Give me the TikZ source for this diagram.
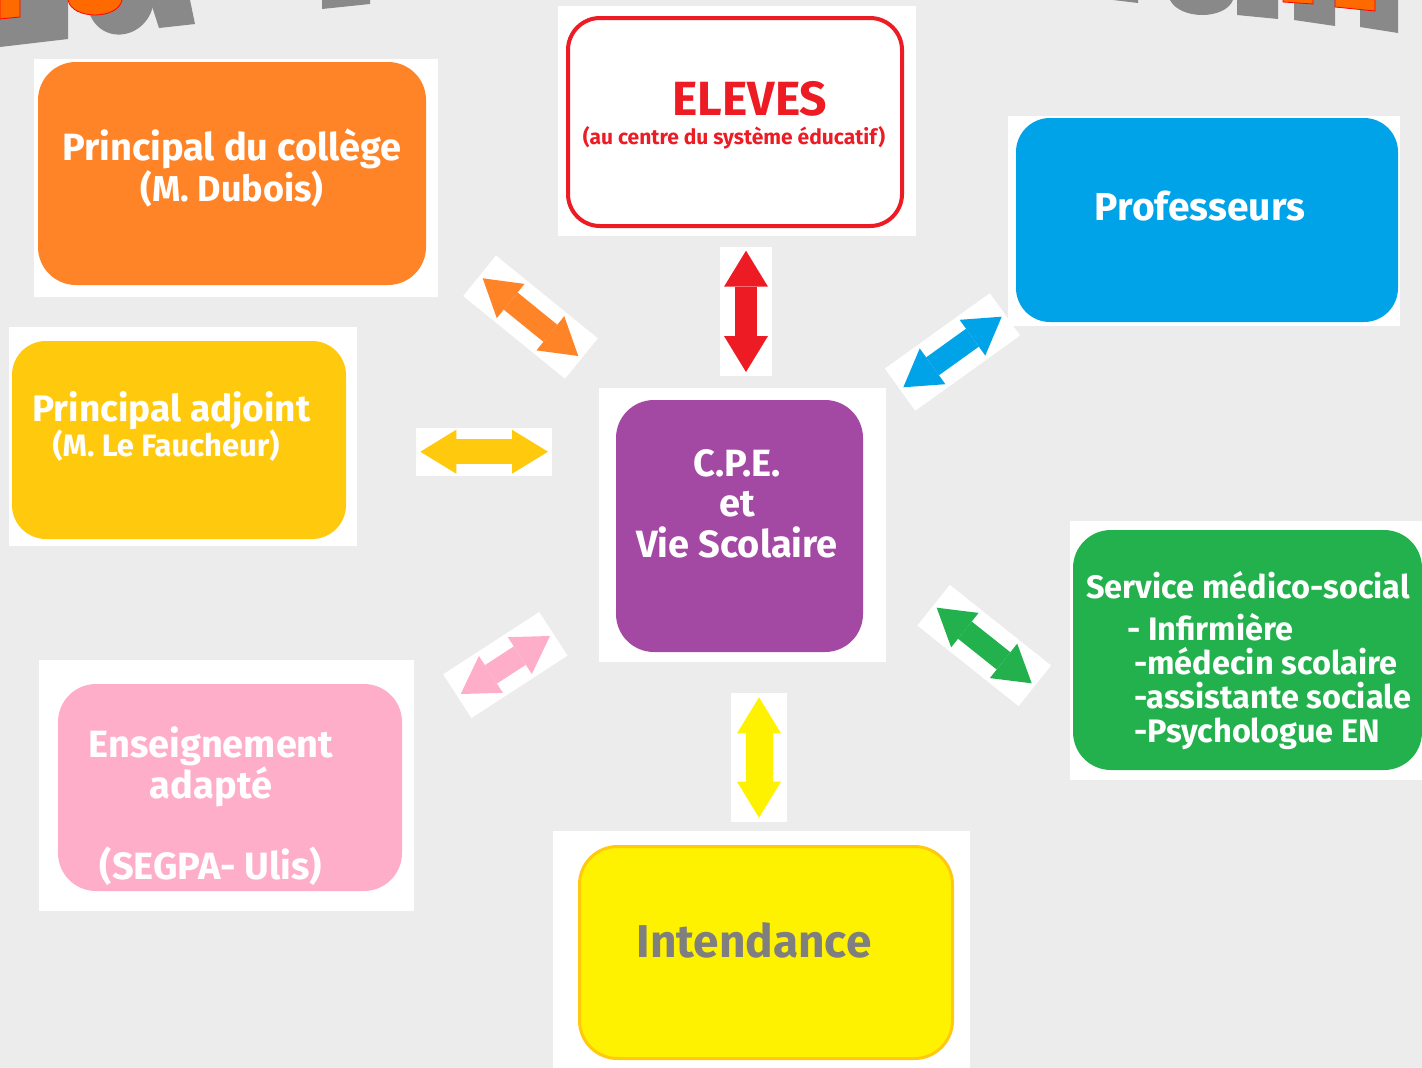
\documentclass[tikz,border=0pt]{standalone}
\usepackage{fontspec}
\setmainfont{Fira Sans}
\usepackage{xcolor}
\usetikzlibrary{arrows.meta, calc}

\definecolor{fond}{HTML}{ECECEC}
\definecolor{orangeC}{HTML}{FF8427}
\definecolor{rougeC}{HTML}{ED1C24}
\definecolor{bleuC}{HTML}{00A2E8}
\definecolor{orC}{HTML}{FFC90E}
\definecolor{violetC}{HTML}{A349A4}
\definecolor{vertC}{HTML}{22B14C}
\definecolor{roseC}{HTML}{FFAEC9}
\definecolor{jauneC}{HTML}{FFF200}
\definecolor{grisT}{HTML}{7F7F7F}
\definecolor{grisTitre}{HTML}{898989}
\definecolor{orangeTitre}{HTML}{FF6A00}

\newcommand{\taille}[2]{\fontsize{#1}{#2}\selectfont}

\tikzset{
    x=1pt, y=-1pt, % one unit is one pixel, y grows downwards
    box/.style={rounded corners=38pt, inner sep=0pt}, % the coloured blocks
    lbl/.style={text=white, align=center, inner sep=0pt}, % the texts inside the blocks
    titre/.style={draw=red, line width=0.8pt}, % bits of the cut title
}
\tikzstyle{halo} = [white, line width=52pt, shorten <=-4pt, shorten >=-4pt]
\tikzstyle{biarrow} = [line width=22pt, {Triangle[length=36pt,width=44pt,line width=0pt]}-{Triangle[length=36pt,width=44pt,line width=0pt]}]

\begin{document}
\begin{tikzpicture}
    \useasboundingbox (0,0) rectangle (1422,1068);
    \fill[fond] (0,0) rectangle (1422,1068);

    % what is left of the title
    \fill[grisTitre] (0,0) -- (0,47) -- (68,39) -- (68,0) -- cycle;
    \fill[orangeTitre, titre] (0,0) -- (0,19) -- (20,17) -- (20,0);
    \fill[grisTitre] (86,0) .. controls (92,50) and (150,42) .. (154,0) -- cycle;
    \fill[orangeTitre, titre] (68,0) .. controls (72,20) and (118,20) .. (122,0);
    \fill[grisTitre] (150,0) -- (159,28) -- (195,24) -- (190,0) -- cycle;
    \fill[grisTitre] (322,0) -- (322,9) -- (370,4) -- (370,0) -- cycle;
    \fill[grisTitre] (1113,0) -- (1138,3) -- (1138,0) -- cycle;
    \fill[grisTitre] (1170,0) .. controls (1180,20) and (1225,20) .. (1233,0) -- cycle;
    \fill[grisTitre] (1237,0) -- (1237,15) -- (1278,19) -- (1278,0) -- cycle;
    \fill[grisTitre] (1294,0) -- (1294,20) -- (1335,26) -- (1335,0) -- cycle;
    \fill[grisTitre] (1360,0) -- (1360,27) -- (1398,33) -- (1398,0) -- cycle;
    \fill[orangeTitre, titre] (1283,0) -- (1283,2) -- (1313,4) -- (1313,0);
    \fill[orangeTitre, titre] (1335,0) -- (1335,7) -- (1375,11) -- (1375,0);

    % white frames behind the blocks
    \foreach \xa/\ya/\xb/\yb in {34/59/438/297, 558/6/916/236, 1008/116/1400/326,
        9/327/357/546, 599/388/886/662, 1070/521/1422/780, 39/660/414/911, 553/831/970/1068}
        \fill[white] (\xa,\ya) rectangle (\xb,\yb);

    % blocks
    \node[box, fill=orangeC, minimum width=388pt, minimum height=223pt] (principal) at (232,173.5) {};
    \node[box, draw=rougeC, line width=4pt, fill=white, minimum width=334pt, minimum height=208pt, rounded corners=32pt] (eleves) at (735,122) {};
    \node[box, fill=bleuC, minimum width=382pt, minimum height=204pt, rounded corners=34pt] (profs) at (1207,220) {};
    \node[box, fill=orC, minimum width=334pt, minimum height=198pt, rounded corners=34pt] (adjoint) at (179,440) {};
    \node[box, fill=violetC, minimum width=247pt, minimum height=252pt] (cpe) at (739.5,526) {};
    \node[box, fill=vertC, minimum width=349pt, minimum height=240pt] (medico) at (1247.5,650) {};
    \node[box, fill=roseC, minimum width=344pt, minimum height=207pt] (adapte) at (230,787.5) {};
    \node[box, draw=orC, line width=3pt, fill=jauneC, minimum width=373pt, minimum height=212pt] (intendance) at (766,952.5) {};

    % texts
    \node[lbl, font=\taille{38}{38}\bfseries] (principal-txt) at (232,168) {Principal du collège\\\taille{36}{38}(M. Dubois)};
    \node[lbl, text=rougeC, font=\taille{48}{48}\bfseries] (eleves-txt) at (750,99) {ELEVES};
    \node[lbl, text=rougeC, font=\taille{21}{21}\bfseries] (eleves-sous) at (734,138) {(au centre du système éducatif)};
    \node[lbl, font=\taille{39}{39}\bfseries] (profs-txt) at (1200,206) {Professeurs};
    \node[lbl, font=\taille{37}{37}\bfseries] (adjoint-txt) at (171.5,411) {Principal adjoint};
    \node[lbl, font=\taille{31}{31}\bfseries] (adjoint-nom) at (166,446) {(M. Le Faucheur)};
    \node[lbl, font=\taille{38}{40.5}\bfseries] (cpe-txt) at (737,503.5) {C.P.E.\\et\\Vie Scolaire};
    \node[lbl, font=\taille{32.5}{34}\bfseries] (medico-titre) at (1248,585) {Service médico-social};
    \node[lbl, align=left, anchor=west, font=\taille{32.5}{34}\bfseries] (medico-liste) at (1127,682)
        {- Infirmière\\\hspace*{7pt}-médecin scolaire\\\hspace*{7pt}-assistante sociale\\\hspace*{7pt}-Psychologue EN};
    \node[lbl, font=\taille{38}{39}\bfseries] (adapte-txt) at (211,806) {Enseignement\\adapté\\[39pt](SEGPA- Ulis)};
    \node[lbl, text=grisT, font=\taille{46}{46}\bfseries] (intendance-txt) at (754,940) {Intendance};

    % double arrows round the C.P.E.
    \coordinate (orange-a) at (482.7,278.3);  \coordinate (orange-b) at (578.3,356);
    \coordinate (rouge-a) at (746,250.7);     \coordinate (rouge-b) at (746,372);
    \coordinate (bleu-a) at (1001.7,316.7);   \coordinate (bleu-b) at (903.3,387.3);
    \coordinate (or-a) at (420.3,451.7);      \coordinate (or-b) at (548,451.7);
    \coordinate (rose-a) at (550,636);        \coordinate (rose-b) at (460.7,694);
    \coordinate (vert-a) at (936.7,607.7);    \coordinate (vert-b) at (1031.7,683.3);
    \coordinate (jaune-a) at (759,697.3);     \coordinate (jaune-b) at (759,817.7);

    \draw[halo] (orange-a) -- (orange-b);
    \draw[halo] (rouge-a) -- (rouge-b);
    \draw[halo] (bleu-a) -- (bleu-b);
    \draw[halo, line width=48pt] (or-a) -- (or-b);
    \draw[halo] (rose-a) -- (rose-b);
    \draw[halo] (vert-a) -- (vert-b);
    \draw[halo, line width=56pt] (jaune-a) -- (jaune-b);

    \draw[biarrow, draw=orangeC] (orange-a) -- (orange-b);
    \draw[biarrow, draw=rougeC] (rouge-a) -- (rouge-b);
    \draw[biarrow, draw=bleuC] (bleu-a) -- (bleu-b);
    \draw[biarrow, draw=orC, line width=25pt] (or-a) -- (or-b);
    \draw[biarrow, draw=roseC] (rose-a) -- (rose-b);
    \draw[biarrow, draw=vertC] (vert-a) -- (vert-b);
    \draw[biarrow, draw=jauneC, line width=27pt] (jaune-a) -- (jaune-b);
\end{tikzpicture}
\end{document}
